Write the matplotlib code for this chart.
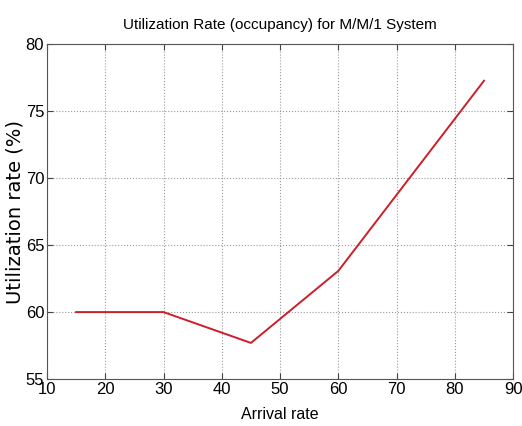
import numpy as np
import matplotlib
matplotlib.use("Agg")
import matplotlib.pyplot as plt

# Datos
arrival_rate = [15, 30, 45, 60, 85]
utilization = [60.0, 60.0, 57.7, 63.07, 77.25]

x_ticks = [10, 20, 30, 40, 50, 60, 70, 80, 90]
y_ticks = [55, 60, 65, 70, 75, 80]

plt.rcParams['font.family'] = ['Liberation Sans', 'DejaVu Sans']

fig = plt.figure(figsize=(5.22, 4.26), dpi=100)
ax = fig.add_axes([0.090, 0.110, 0.893, 0.787])

ax.plot(arrival_rate, utilization, color='#cc1f2a', linewidth=1.4)

ax.set_xlim(10, 90)
ax.set_ylim(55, 80)
ax.set_xticks(x_ticks)
ax.set_yticks(y_ticks)
ax.tick_params(direction='in', top=True, right=True, labelsize=12,
               length=4, width=0.8, color='#444444', pad=2)
ax.grid(True, linestyle=':', color='#9a9a9a', linewidth=0.8)
for s in ax.spines.values():
    s.set_color('#555555')
    s.set_linewidth(0.8)

ax.set_title("Utilization Rate (occupancy) for M/M/1 System", fontsize=11, pad=11)
ax.set_xlabel("Arrival rate", fontsize=11.5, labelpad=7)
ax.set_ylabel("Utilization rate (%)", fontsize=14, family='DejaVu Sans')
ax.yaxis.set_label_coords(-0.049, 0.5)

fig.savefig("out.png", dpi=100)
